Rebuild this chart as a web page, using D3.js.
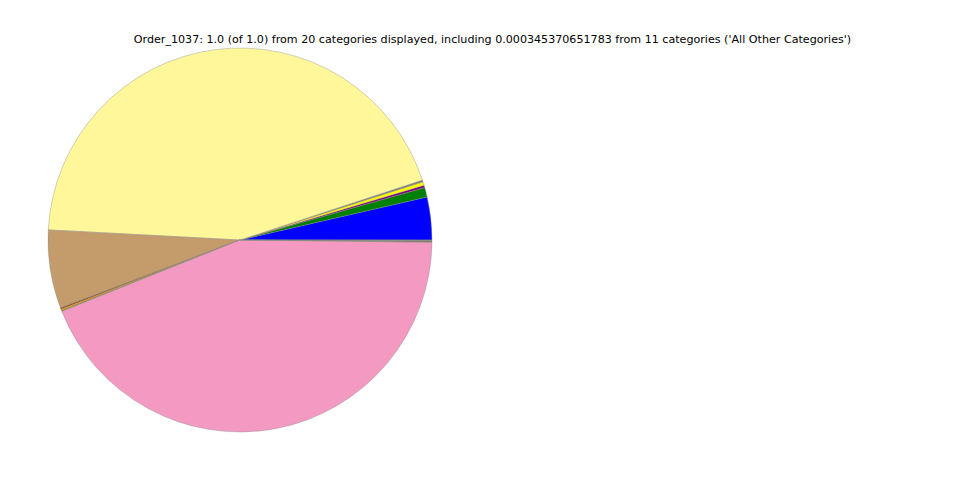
<!DOCTYPE html>
<html><head><meta charset="utf-8">
<script src="https://cdn.jsdelivr.net/npm/d3@7"></script>
<style>body{margin:0;background:#fff;}svg{display:block;}</style>
</head><body>
<svg id="c" width="960" height="480"></svg>
<script>
const categories = ["Cat_A","Cat_B","Cat_C","Cat_D","Cat_E","Cat_F","Cat_G","Cat_H","Cat_I","Cat_J","Cat_K","Cat_L","All Other Categories"];
const values = [0.036, 0.008, 0.002, 0.003, 0.0015, 0.4412, 0.066, 0.0012, 0.0012, 0.0008, 0.43745, 0.0015, 0.000345];
const colors = ["#0000ff","#008000","#800080","#ffff00","#808080","#fff799","#c49c6c","#8b4513","#ff8c00","#6b8e23","#f49ac2","#808060","#808080"];
const titleText = "Order_1037: 1.0 (of 1.0) from 20 categories displayed, including 0.000345370651783 from 11 categories ('All Other Categories')";

const svg = d3.select("#c");
const cx = 240, cy = 240, r = 192;
const pie = d3.pie().sort(null).value(d => d.v).startAngle(Math.PI/2).endAngle(Math.PI/2 - 2*Math.PI);
const data = categories.map((c,i) => ({c, v: values[i], col: colors[i]}));
const arc = d3.arc().innerRadius(0).outerRadius(r);
svg.append("g").attr("transform", `translate(${cx},${cy})`)
  .selectAll("path").data(pie(data)).join("path")
  .attr("d", arc)
  .attr("fill", d => d.data.col)
  .attr("stroke", "#8a8a8a")
  .attr("stroke-width", 0.4);
svg.append("text").attr("x", 492.5).attr("y", 43).attr("text-anchor","middle")
  .attr("font-family","DejaVu Sans").attr("font-size", 11.12).text(titleText);
</script>
</body></html>
